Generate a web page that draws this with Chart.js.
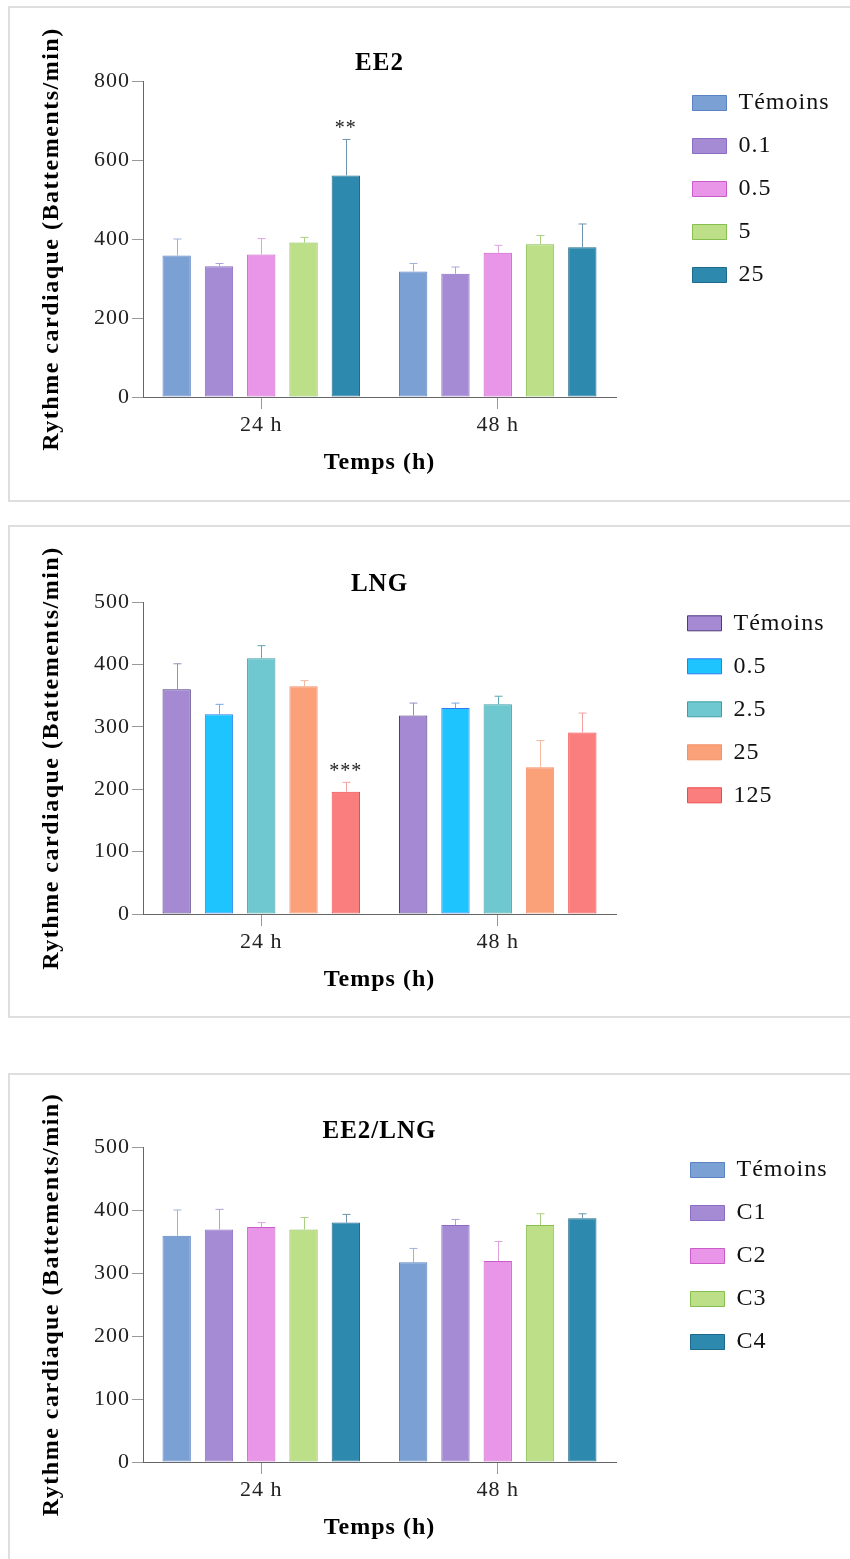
<!DOCTYPE html>
<html>
<head>
<meta charset="utf-8">
<script src="https://cdn.jsdelivr.net/npm/chart.js@4.4.1/dist/chart.umd.min.js"></script>
<style>
    html, body { margin: 0; padding: 0; width: 850px; height: 1559px; overflow: hidden; background: #fff; }
    .frame { position: absolute; left: 8px; width: 900px; box-sizing: border-box; border: 2px solid #dedede; }
    .band { position: absolute; left: 0; width: 850px; }
    .band canvas { display: block; }
</style>
</head>
<body>
<div class="frame" style="top:6px; height:496px;"></div>
<div class="frame" style="top:525px; height:493px;"></div>
<div class="frame" style="top:1073px; height:600px;"></div>

<div class="band" style="top:0; height:520px;"><canvas id="ee2Chart" width="850" height="520"></canvas></div>
<div class="band" style="top:520px; height:530px;"><canvas id="lngChart" width="850" height="530"></canvas></div>
<div class="band" style="top:1050px; height:509px;"><canvas id="mixChart" width="850" height="509"></canvas></div>

<script>
// Catégories communes
const categories = ['24 h', '48 h'];

// EE2 : moyennes et écarts (barre d'erreur supérieure)
const ee2Labels = ['Témoins', '0.1', '0.5', '5', '25'];
const ee2Temoins = [358, 318];
const ee2Dose01 = [331, 312];
const ee2Dose05 = [361, 365];
const ee2Dose5 = [391, 387];
const ee2Dose25 = [561, 379];
const ee2ErrTemoins = [42, 20];
const ee2Err01 = [7, 17];
const ee2Err05 = [40, 19];
const ee2Err5 = [13, 22];
const ee2Err25 = [91, 59];
const ee2Stars25 = ['**', ''];
const ee2Ticks = [0, 200, 400, 600, 800];

// LNG
const lngLabels = ['Témoins', '0.5', '2.5', '25', '125'];
const lngTemoins = [360, 318];
const lngDose05 = [320, 330];
const lngDose25 = [410, 336];
const lngDose25b = [365, 235];
const lngDose125 = [196, 291];
const lngErrTemoins = [41, 20];
const lngErr05 = [16, 8];
const lngErr25 = [20, 13];
const lngErr25b = [9, 43];
const lngErr125 = [15, 31];
const lngStars125 = ['***', ''];
const lngTicks = [0, 100, 200, 300, 400, 500];

// EE2/LNG
const mixLabels = ['Témoins', 'C1', 'C2', 'C3', 'C4'];
const mixTemoins = [359, 317];
const mixC1 = [369, 376];
const mixC2 = [373, 319];
const mixC3 = [369, 376];
const mixC4 = [380, 387];
const mixErrTemoins = [41, 22];
const mixErrC1 = [32, 9];
const mixErrC2 = [7, 31];
const mixErrC3 = [19, 18];
const mixErrC4 = [13, 7];
const mixTicks = [0, 100, 200, 300, 400, 500];

const yTitleText = 'Rythme cardiaque (Battements/min)';
const xTitleText = 'Temps (h)';

// Couleurs (remplissage, contour, barre d'erreur)
const paletteA = [
    { fill: '#7BA0D4', line: '#5A82C4', err: '#9DB3DA' },
    { fill: '#A58AD4', line: '#8B6CC4', err: '#B3A0DB' },
    { fill: '#E995E8', line: '#C95CC8', err: '#DFA3DF' },
    { fill: '#BCDF87', line: '#86BE50', err: '#A9CF83' },
    { fill: '#2D89AE', line: '#1F6A8C', err: '#6F93AD' }
];
const paletteB = [
    { fill: '#A58AD3', line: '#4B3A7E', err: '#9A8CBF' },
    { fill: '#1EC4FE', line: '#2D7BF0', err: '#7AA6E8' },
    { fill: '#6FC8CF', line: '#3D9EA6', err: '#5AA9B0' },
    { fill: '#FBA17A', line: '#F39068', err: '#F7B9A0' },
    { fill: '#FB7E7E', line: '#F04848', err: '#F7A0A0' }
];

const serif = '"Liberation Serif", "Times New Roman", serif';
const legendBoxWidth = 170;

// Espacement des lettres + largeur fixe de la légende
const spacingPlugin = {
    id: 'spacing',
    beforeLayout(chart) {
        chart.ctx.letterSpacing = '1px';
        const lg = chart.legend;
        if (lg && !lg._fixedWidth) {
            const fit = lg.fit;
            lg.fit = function () {
                fit.call(this);
                this.width = legendBoxWidth;
            };
            lg._fixedWidth = true;
        }
    },
    beforeDraw(chart) { chart.ctx.letterSpacing = '1px'; }
};

// Barres d'erreur (côté supérieur) et étoiles de significativité
const errorBarPlugin = {
    id: 'errorBars',
    afterDatasetsDraw(chart) {
        const ctx = chart.ctx;
        const yScale = chart.scales.y;
        chart.data.datasets.forEach((ds, di) => {
            const meta = chart.getDatasetMeta(di);
            if (meta.hidden) return;
            meta.data.forEach((bar, i) => {
                const top = yScale.getPixelForValue(ds.data[i] + ds.errors[i]);
                const x = Math.round(bar.x) + 0.5;
                ctx.save();
                ctx.strokeStyle = ds.errorColor;
                ctx.lineWidth = 1;
                ctx.beginPath();
                ctx.moveTo(x, bar.y);
                ctx.lineTo(x, top);
                ctx.moveTo(x - 4, top);
                ctx.lineTo(x + 4, top);
                ctx.stroke();
                if (ds.stars && ds.stars[i]) {
                    ctx.fillStyle = '#222';
                    ctx.font = '20px ' + serif;
                    ctx.textAlign = 'center';
                    ctx.textBaseline = 'middle';
                    ctx.fillText(ds.stars[i], bar.x, top - 11);
                }
                ctx.restore();
            });
        });
    }
};

// Titre vertical (trop long pour la hauteur de l'axe)
const yTitlePlugin = {
    id: 'yTitle',
    afterDraw(chart, args, opts) {
        const { ctx, chartArea } = chart;
        ctx.save();
        ctx.translate(opts.x, (chartArea.top + chartArea.bottom) / 2);
        ctx.rotate(-Math.PI / 2);
        ctx.font = 'bold 24px ' + serif;
        ctx.letterSpacing = '1.5px';
        ctx.fillStyle = '#000';
        ctx.textAlign = 'center';
        ctx.textBaseline = 'middle';
        ctx.fillText(opts.text, 0, 0);
        ctx.restore();
    }
};

function buildChart(canvasId, p) {
    const datasets = p.labels.map((label, i) => ({
        label: label,
        data: p.values[i],
        errors: p.errors[i],
        stars: p.stars[i] || null,
        backgroundColor: p.colors[i].fill,
        borderColor: p.colors[i].line,
        errorColor: p.colors[i].err,
        borderWidth: 1,
        borderSkipped: false,
        yAxisID: 'y',
        categoryPercentage: 0.894,
        barPercentage: 0.67
    }));

    const ctx = document.getElementById(canvasId).getContext('2d');
    return new Chart(ctx, {
        type: 'bar',
        data: { labels: categories, datasets: datasets },
        plugins: [spacingPlugin, errorBarPlugin, yTitlePlugin],
        options: {
            responsive: false,
            animation: false,
            devicePixelRatio: 1,
            layout: { padding: p.padding },
            plugins: {
                title: {
                    display: true,
                    text: p.title,
                    fullSize: false,
                    color: '#000',
                    font: { family: serif, size: 25, weight: 'bold' },
                    padding: p.titlePadding
                },
                legend: {
                    position: 'right',
                    align: 'start',
                    title: { display: true, text: '', font: { size: 10 }, padding: { top: p.legendTop, bottom: 0 } },
                    labels: {
                        boxWidth: 34,
                        boxHeight: 15,
                        padding: 19,
                        color: '#111',
                        font: { family: serif, size: 24 }
                    }
                },
                tooltip: { enabled: false },
                yTitle: { x: 52, text: yTitleText }
            },
            scales: {
                x: {
                    grid: { display: true, drawOnChartArea: false, drawTicks: true, tickLength: 12, offset: false, color: '#999' },
                    border: { color: '#666' },
                    ticks: { color: '#222', padding: 3, font: { family: serif, size: 22 } },
                    title: {
                        display: true,
                        text: xTitleText,
                        color: '#000',
                        font: { family: serif, size: 24, weight: 'bold' },
                        padding: { top: 0, bottom: 0 }
                    },
                    afterFit: s => { s.height = 80; }
                },
                y: {
                    min: p.ticks[0],
                    max: p.ticks[p.ticks.length - 1],
                    afterBuildTicks: s => { s.ticks = p.ticks.map(v => ({ value: v })); },
                    grid: { drawOnChartArea: false, tickLength: 11, color: '#999' },
                    border: { color: '#666' },
                    ticks: { color: '#222', padding: 2, font: { family: serif, size: 22 } },
                    afterFit: s => { s.width = 107; }
                },
                // espace vide entre le graphique et la légende
                spacer: {
                    type: 'linear',
                    position: 'right',
                    grid: { display: false },
                    ticks: { display: false },
                    border: { display: false },
                    afterFit: s => { s.width = p.legendGap; }
                }
            }
        }
    });
}

buildChart('ee2Chart', {
    title: 'EE2',
    labels: ee2Labels,
    values: [ee2Temoins, ee2Dose01, ee2Dose05, ee2Dose5, ee2Dose25],
    errors: [ee2ErrTemoins, ee2Err01, ee2Err05, ee2Err5, ee2Err25],
    stars: [null, null, null, null, ee2Stars25],
    colors: paletteA,
    ticks: ee2Ticks,
    padding: { left: 36, right: 6.5, top: 49, bottom: 43 },
    titlePadding: { top: 0, bottom: 2 },
    legendTop: 11,
    legendGap: 57.5
});

buildChart('lngChart', {
    title: 'LNG',
    labels: lngLabels,
    values: [lngTemoins, lngDose05, lngDose25, lngDose25b, lngDose125],
    errors: [lngErrTemoins, lngErr05, lngErr25, lngErr25b, lngErr125],
    stars: [null, null, null, null, lngStars125],
    colors: paletteB,
    ticks: lngTicks,
    padding: { left: 36, right: 11.5, top: 50, bottom: 56 },
    titlePadding: { top: 0, bottom: 2 },
    legendTop: 10.3,
    legendGap: 52.5
});

buildChart('mixChart', {
    title: 'EE2/LNG',
    labels: mixLabels,
    values: [mixTemoins, mixC1, mixC2, mixC3, mixC4],
    errors: [mixErrTemoins, mixErrC1, mixErrC2, mixErrC3, mixErrC4],
    stars: [null, null, null, null, null],
    colors: paletteA,
    ticks: mixTicks,
    padding: { left: 36, right: 8.5, top: 67, bottom: 17 },
    titlePadding: { top: 0, bottom: 0 },
    legendTop: 10,
    legendGap: 55.5
});
</script>
</body>
</html>
